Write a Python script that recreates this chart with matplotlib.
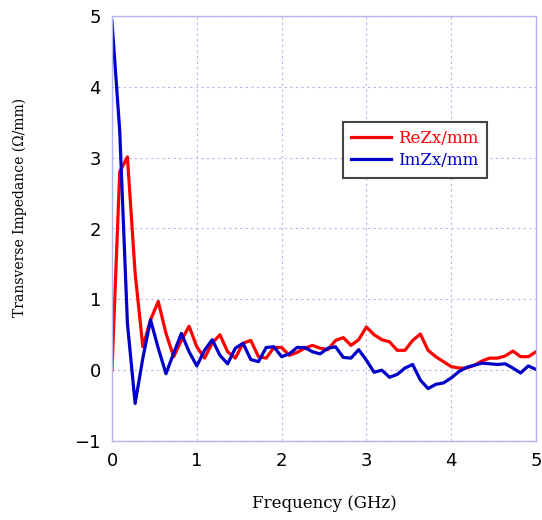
import numpy as np
import matplotlib
matplotlib.use("Agg")
import matplotlib.pyplot as plt

freq = np.linspace(0, 5, 56)
re_z = [0.00, 2.80, 3.01, 1.37, 0.33, 0.71, 0.97, 0.52, 0.19, 0.42,
        0.62, 0.33, 0.17, 0.38, 0.50, 0.26, 0.17, 0.38, 0.42, 0.19,
        0.17, 0.32, 0.32, 0.21, 0.25, 0.31, 0.35, 0.31, 0.29, 0.42,
        0.46, 0.35, 0.43, 0.61, 0.50, 0.43, 0.40, 0.28, 0.28, 0.42,
        0.51, 0.28, 0.19, 0.12, 0.05, 0.03, 0.03, 0.07, 0.13, 0.17,
        0.17, 0.20, 0.27, 0.19, 0.19, 0.26]
im_z = [4.92, 3.38, 0.66, -0.47, 0.17, 0.71, 0.31, -0.05, 0.24, 0.52,
        0.26, 0.06, 0.28, 0.43, 0.21, 0.09, 0.31, 0.38, 0.15, 0.12,
        0.32, 0.33, 0.19, 0.23, 0.32, 0.32, 0.26, 0.23, 0.31, 0.33,
        0.18, 0.17, 0.29, 0.14, -0.03, 0.00, -0.10, -0.06, 0.03, 0.08,
        -0.14, -0.26, -0.20, -0.18, -0.11, -0.02, 0.04, 0.07, 0.10, 0.09,
        0.08, 0.09, 0.03, -0.04, 0.06, 0.01]

grid_col = "#b4b4ee"

fig = plt.figure(figsize=(5.42, 5.20), dpi=100)
ax = fig.add_axes([112/542, 1-441/520, 424/542, 425/520])

ax.plot(freq, re_z, color="#ff0000", lw=2.3, label="ReZx/mm")
ax.plot(freq, im_z, color="#0000c8", lw=2.3, label="ImZx/mm")

ax.set_xlim(0, 5)
ax.set_ylim(-1, 5)
ax.set_xticks(range(0, 6))
ax.set_yticks(range(-1, 6))
ax.set_yticklabels(["\u22121", "0", "1", "2", "3", "4", "5"])
ax.tick_params(length=0, labelsize=13, pad=8)
ax.grid(True, color=grid_col, ls=(0, (2, 3)), lw=0.8)
for s in ax.spines.values():
    s.set_color(grid_col)
    s.set_linewidth(1.0)

ax.set_xlabel("Frequency (GHz)", family="DejaVu Serif", fontsize=12)
ax.xaxis.set_label_coords(0.502, -0.128)
ax.set_ylabel("Transverse Impedance (\u03a9/mm)", family="DejaVu Serif", fontsize=10)
ax.yaxis.set_label_coords(-0.2, 0.55)

leg = ax.legend(loc="upper left", bbox_to_anchor=(231/424, 1-106/425), borderaxespad=0,
                fancybox=False, framealpha=1, edgecolor="#444444",
                prop={"family": "DejaVu Serif", "size": 12},
                handlelength=2.4, handletextpad=0.4, borderpad=0.5, labelspacing=0.3)
leg.get_frame().set_linewidth(1.5)
for t, c in zip(leg.get_texts(), ["#ff0000", "#0000c8"]):
    t.set_color(c)

fig.savefig("out.png", dpi=100)
